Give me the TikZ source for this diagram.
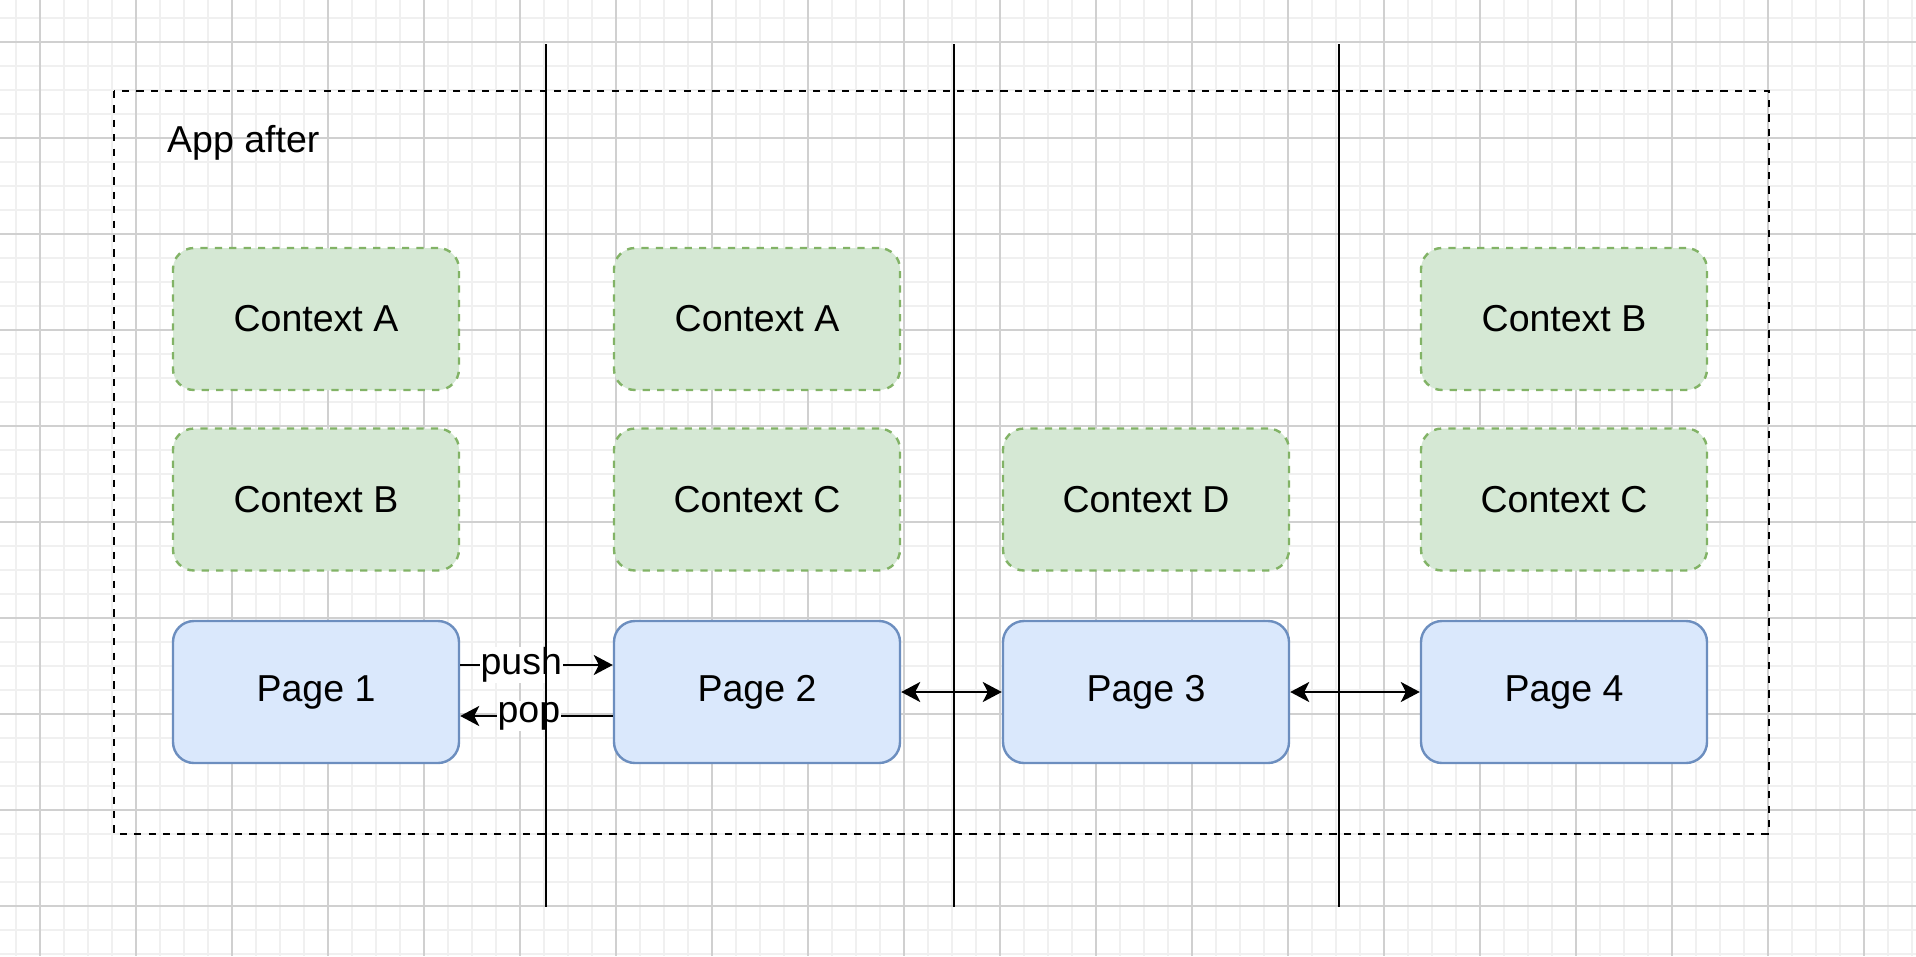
\documentclass[tikz,border=0pt]{standalone}
\usepackage{fontspec}
\setmainfont{Liberation Sans}
\usetikzlibrary{arrows.meta}
\definecolor{gfill}{HTML}{D5E8D4}
\definecolor{gdraw}{HTML}{82B366}
\definecolor{bfill}{HTML}{DAE8FC}
\definecolor{bdraw}{HTML}{6C8EBF}
\definecolor{gridminor}{HTML}{F0F0F0}
\definecolor{gridmajor}{HTML}{D0D0D0}
\tikzset{
  x=1pt, y=-1pt,
  lbl/.style={font=\fontsize{37.5}{45}\selectfont, text=black},
  ctx/.style={lbl, rectangle, rounded corners=21pt, fill=gfill, draw=gdraw, line width=2.4pt,
    dash pattern=on 7.2pt off 7.2pt, minimum width=286pt, minimum height=142pt, inner sep=0pt},
  pagebox/.style={lbl, rectangle, rounded corners=21pt, fill=bfill, draw=bdraw, line width=2.4pt,
    minimum width=286pt, minimum height=142pt, inner sep=0pt},
  conn/.style={line width=2.4pt, draw=black},
  tip/.style={-{Stealth[length=19pt,width=20pt,inset=5pt]}},
  dtip/.style={{Stealth[length=19pt,width=20pt,inset=5pt]}-{Stealth[length=19pt,width=20pt,inset=5pt]}},
  elabel/.style={lbl, fill=white, inner sep=1pt},
  divider/.style={line width=2.4pt, draw=black},
  frame/.style={line width=2.4pt, draw=black, dash pattern=on 7.2pt off 7.2pt}
}
\begin{document}
\begin{tikzpicture}
\useasboundingbox (0,0) rectangle (1916,956);
\fill[white] (0,0) rectangle (1916,956);
% grid
\foreach \gx in {16,40,...,1916} \draw[gridminor, line width=1.5pt] (\gx,0) -- (\gx,956);
\foreach \gy in {18,42,...,956} \draw[gridminor, line width=1.5pt] (0,\gy) -- (1916,\gy);
\foreach \gx in {40,136,...,1916} \draw[gridmajor, line width=1.2pt] (\gx,0) -- (\gx,956);
\foreach \gy in {42,138,...,956} \draw[gridmajor, line width=1.2pt] (0,\gy) -- (1916,\gy);
% frame
\draw[frame] (114,91) rectangle (1769,834);
\node[lbl, anchor=base west, inner sep=0pt] (title) at (167,152) {App after};
% boxes
\node[ctx] (c1a) at (316,319) {Context A};
\node[ctx] (c1b) at (316,499.5) {Context B};
\node[pagebox] (p1) at (316,692) {Page 1};
\node[ctx] (c2a) at (757,319) {Context A};
\node[ctx] (c2c) at (757,499.5) {Context C};
\node[pagebox] (p2) at (757,692) {Page 2};
\node[ctx] (c3d) at (1146,499.5) {Context D};
\node[pagebox] (p3) at (1146,692) {Page 3};
\node[ctx] (c4b) at (1564,319) {Context B};
\node[ctx] (c4c) at (1564,499.5) {Context C};
\node[pagebox] (p4) at (1564,692) {Page 4};
% connectors
\draw[conn, tip] ([yshift=27pt]p1.east) -- node[elabel, pos=0.4] {push} ([yshift=27pt]p2.west);
\draw[conn, tip] ([yshift=-24pt]p2.west) -- node[elabel, pos=0.55] {pop} ([yshift=-24pt]p1.east);
\draw[conn, dtip] (p2.east) -- (p3.west);
\draw[conn, dtip] (p3.east) -- (p4.west);
% dividers
\coordinate (d1t) at (546,44); \coordinate (d1b) at (546,907);
\coordinate (d2t) at (954,44); \coordinate (d2b) at (954,907);
\coordinate (d3t) at (1339,44); \coordinate (d3b) at (1339,907);
\draw[divider] (d1t) -- (d1b);
\draw[divider] (d2t) -- (d2b);
\draw[divider] (d3t) -- (d3b);
\end{tikzpicture}
\end{document}
